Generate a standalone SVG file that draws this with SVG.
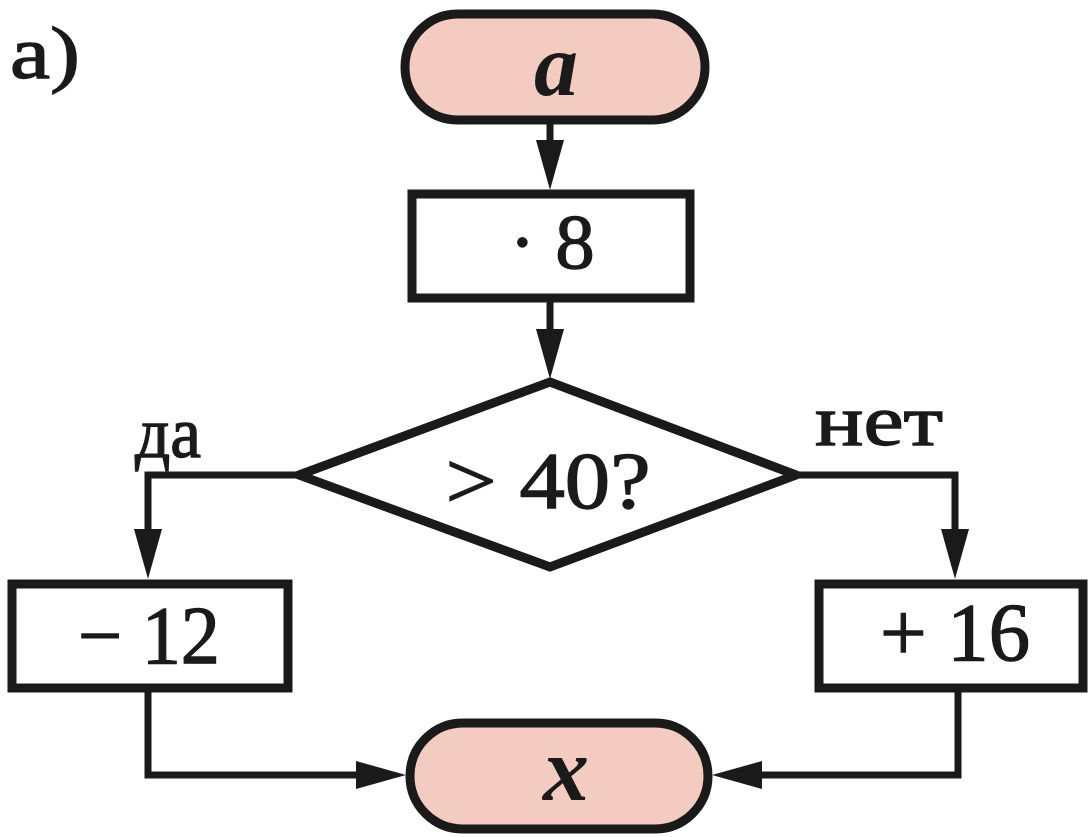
<svg xmlns="http://www.w3.org/2000/svg" width="1089" height="837" viewBox="0 0 1089 837">
<style>
.sh{fill:#fff;stroke:#1a1a1a;stroke-width:9;stroke-linejoin:miter}
.term{fill:#f3cbc0;stroke:#1a1a1a;stroke-width:9}
.ln{fill:none;stroke:#1a1a1a;stroke-width:7}
.t{font-family:"Liberation Serif","DejaVu Serif",serif;fill:#1a1a1a;stroke:#1a1a1a;stroke-width:1.3;text-anchor:middle}
.ti{font-family:"Liberation Serif","DejaVu Serif",serif;font-style:italic;font-weight:bold;fill:#1a1a1a;text-anchor:middle}
</style>
<defs>
<marker id="ah" viewBox="0 0 50 28" refX="10" refY="14" markerWidth="50" markerHeight="28" markerUnits="userSpaceOnUse" orient="auto">
<path d="M0,0 L50,14 L0,28 Z" fill="#1a1a1a"/>
</marker>
</defs>
<rect width="1089" height="837" fill="#fff"/>
<text class="t" x="45" y="78" font-size="74" textLength="70" lengthAdjust="spacingAndGlyphs">а)</text>
<g id="connectors">
<line class="ln" x1="550" y1="122" x2="550" y2="150" marker-end="url(#ah)"/>
<line class="ln" x1="550" y1="298" x2="550" y2="339" marker-end="url(#ah)"/>
<polyline class="ln" points="295,475 148,475 148,539" marker-end="url(#ah)"/>
<polyline class="ln" points="800,475 955,475 955,539" marker-end="url(#ah)"/>
<polyline class="ln" points="148,690 148,775 366,775" marker-end="url(#ah)"/>
<polyline class="ln" points="958,690 958,775 752,775" marker-end="url(#ah)"/>
<text class="t" x="168" y="457" font-size="72" textLength="66" lengthAdjust="spacingAndGlyphs">да</text>
<text class="t" x="879" y="445" font-size="72" textLength="128" lengthAdjust="spacingAndGlyphs">нет</text>
</g>
<g id="start">
<rect class="term" x="405" y="14" width="300" height="106" rx="53"/>
<text class="ti" x="556" y="95" font-size="88">a</text>
</g>
<g id="mul8">
<rect class="sh" x="412" y="194" width="278" height="104"/>
<text class="t" x="552" y="268" font-size="79">· 8</text>
</g>
<g id="cond">
<polygon class="sh" points="550,382 796,475 550,567 299,475"/>
<text class="t" x="548" y="508" font-size="80" textLength="205" lengthAdjust="spacingAndGlyphs">&gt; 40?</text>
</g>
<g id="minus12">
<rect class="sh" x="12" y="584" width="276" height="104"/>
<text class="t" x="149" y="663" font-size="82" textLength="142" lengthAdjust="spacingAndGlyphs">− 12</text>
</g>
<g id="plus16">
<rect class="sh" x="819" y="584" width="264" height="104"/>
<text class="t" x="955" y="660" font-size="82" textLength="150" lengthAdjust="spacingAndGlyphs">+ 16</text>
</g>
<g id="end">
<rect class="term" x="410" y="723" width="298" height="106" rx="53"/>
<text class="ti" x="566" y="800" font-size="92">x</text>
</g>
</svg>
